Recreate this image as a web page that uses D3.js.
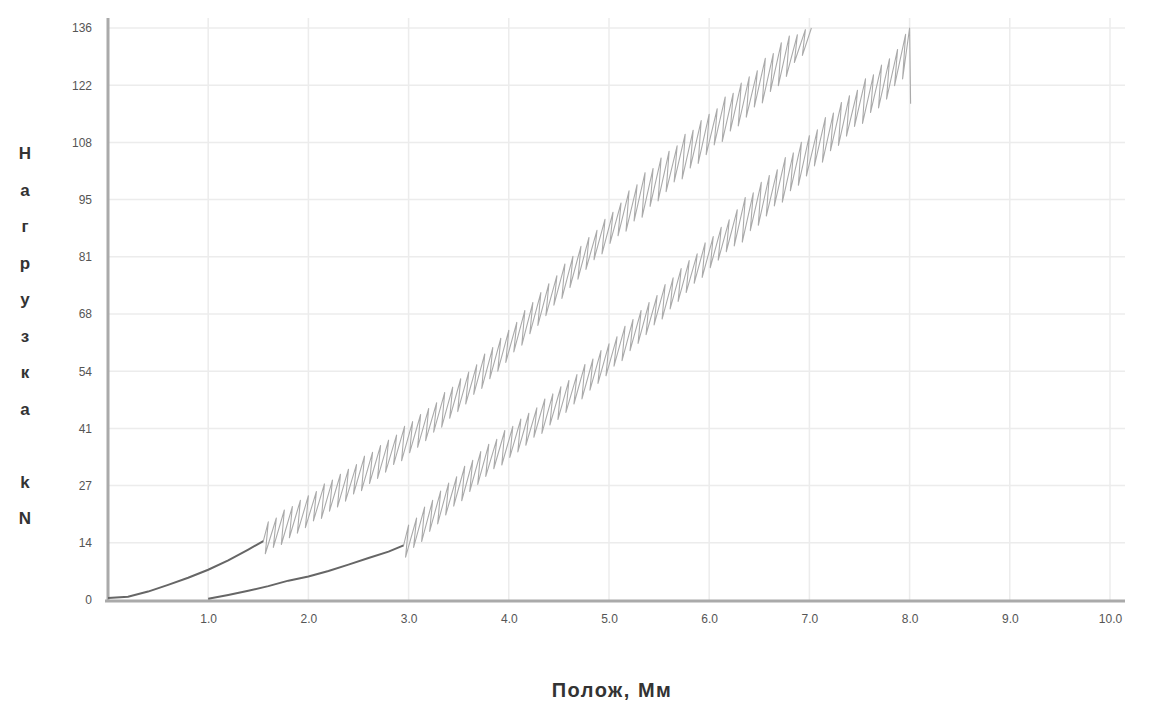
<!DOCTYPE html>
<html>
<head>
<meta charset="utf-8">
<script src="https://cdn.jsdelivr.net/npm/d3@7/dist/d3.min.js"></script>
<style>
  body { margin: 0; background: #fff; }
  svg { display: block; font-family: "Liberation Sans", Arial, sans-serif; }
</style>
</head>
<body>
<svg id="chart"></svg>
<script>
// tick values / labels
const xTicks = [1, 2, 3, 4, 5, 6, 7, 8, 9, 10];
const xTickLabels = ["1.0", "2.0", "3.0", "4.0", "5.0", "6.0", "7.0", "8.0", "9.0", "10.0"];
const yTicks = [0, 13.6, 27.2, 40.8, 54.4, 68, 81.6, 95.2, 108.8, 122.4, 136];
const yTickLabels = ["0", "14", "27", "41", "54", "68", "81", "95", "108", "122", "136"];
const yLabelLetters = ["Н", "а", "г", "р", "у", "з", "к", "а", "", "k", "N"];

// sample 1: lead-in, then load/unload cycles [displacement mm, load kN]
const leadA = [[0, 0.5], [0.2, 0.8], [0.4, 2.0], [0.6, 3.6], [0.8, 5.3], [1.0, 7.2],
  [1.2, 9.4], [1.4, 12.0], [1.55, 14.0]];
const cyclesA = [
  [1.55, 14.0], [1.6, 18.6], [1.57, 11.0], [1.68, 19.5], [1.65, 12.5], [1.76, 21.4], [1.73, 13.2],
  [1.84, 22.2], [1.81, 14.8], [1.92, 23.7], [1.89, 15.9], [2.0, 24.8], [1.97, 17.2],
  [2.08, 25.8], [2.05, 18.8], [2.16, 27.6], [2.13, 19.4], [2.24, 28.5], [2.21, 21.1],
  [2.32, 29.9], [2.29, 22.1], [2.4, 31.1], [2.37, 23.5], [2.48, 32.2], [2.45, 25.2],
  [2.56, 34.2], [2.53, 26.0], [2.64, 35.1], [2.61, 27.7], [2.72, 36.7], [2.69, 28.9],
  [2.8, 38.0], [2.77, 30.4], [2.88, 39.2], [2.85, 32.2], [2.96, 41.3], [2.93, 33.1],
  [3.04, 42.4], [3.01, 35.0], [3.12, 44.1], [3.09, 36.3], [3.2, 45.5], [3.17, 37.9],
  [3.28, 46.9], [3.25, 39.9], [3.36, 49.3], [3.33, 41.1], [3.44, 50.6], [3.41, 43.2],
  [3.52, 52.6], [3.49, 44.8], [3.6, 54.2], [3.57, 46.6], [3.68, 55.9], [3.65, 48.9],
  [3.76, 58.5], [3.73, 50.3], [3.84, 60.0], [3.81, 52.6], [3.92, 62.2], [3.89, 54.4],
  [4.0, 64.1], [3.97, 56.5], [4.08, 66.0], [4.05, 59.0], [4.16, 68.8], [4.13, 60.6],
  [4.24, 70.7], [4.21, 63.3], [4.32, 73.1], [4.29, 65.3], [4.4, 75.2], [4.37, 67.6],
  [4.48, 77.1], [4.45, 70.1], [4.56, 79.9], [4.53, 71.7], [4.64, 81.7], [4.61, 74.3],
  [4.72, 84.1], [4.69, 76.3], [4.8, 86.2], [4.77, 78.6], [4.88, 87.9], [4.85, 80.9],
  [4.96, 90.5], [4.93, 82.3], [5.04, 92.2], [5.01, 84.8], [5.12, 94.4], [5.09, 86.6],
  [5.2, 97.3], [5.17, 87.7], [5.28, 98.7], [5.25, 90.1], [5.36, 101.6], [5.33, 91.0],
  [5.44, 102.6], [5.41, 93.6], [5.52, 105.1], [5.49, 94.9], [5.6, 106.7], [5.57, 97.1],
  [5.68, 108.0], [5.65, 99.4], [5.76, 110.7], [5.73, 100.1], [5.84, 111.7], [5.81, 102.7],
  [5.92, 114.0], [5.89, 103.8], [6.0, 115.5], [5.97, 105.9], [6.08, 116.8], [6.05, 108.2],
  [6.16, 119.6], [6.13, 109.0], [6.24, 120.5], [6.21, 111.5], [6.32, 122.9], [6.29, 112.7],
  [6.4, 124.4], [6.37, 114.8], [6.48, 125.8], [6.45, 117.2], [6.56, 128.8], [6.53, 118.2],
  [6.64, 129.9], [6.61, 120.9], [6.72, 132.5], [6.69, 122.3], [6.8, 134.1], [6.77, 124.5],
  [6.88, 134.4], [6.85, 127.8], [6.96, 135.6], [6.93, 129.5], [7.02, 136.0]
];

// sample 2
const leadB = [[1.0, 0.3], [1.2, 1.2], [1.4, 2.2], [1.6, 3.3], [1.8, 4.6], [2.0, 5.6],
  [2.2, 6.9], [2.4, 8.4], [2.6, 10.0], [2.8, 11.5], [2.95, 13.0]];
const cyclesB = [
  [2.95, 13.0], [3.0, 17.8], [2.97, 10.2], [3.08, 19.5], [3.05, 12.5], [3.16, 22.1], [3.13, 13.9],
  [3.24, 23.7], [3.21, 16.3], [3.32, 25.9], [3.29, 18.1], [3.4, 27.8], [3.37, 20.2],
  [3.48, 29.3], [3.45, 22.3], [3.56, 31.8], [3.53, 23.6], [3.64, 33.2], [3.61, 25.8],
  [3.72, 35.3], [3.69, 27.5], [3.8, 37.0], [3.77, 29.4], [3.88, 38.2], [3.85, 31.2],
  [3.96, 40.3], [3.93, 32.1], [4.04, 41.3], [4.01, 33.9], [4.12, 43.0], [4.09, 35.2],
  [4.2, 44.4], [4.17, 36.8], [4.28, 45.7], [4.25, 38.7], [4.36, 47.8], [4.33, 39.6],
  [4.44, 49.0], [4.41, 41.6], [4.52, 50.7], [4.49, 42.9], [4.6, 52.2], [4.57, 44.6],
  [4.68, 53.6], [4.65, 46.6], [4.76, 56.0], [4.73, 47.8], [4.84, 57.3], [4.81, 49.9],
  [4.92, 59.3], [4.89, 51.5], [5.0, 60.9], [4.97, 53.3], [5.08, 62.6], [5.05, 55.6],
  [5.16, 65.1], [5.13, 56.9], [5.24, 66.7], [5.21, 59.3], [5.32, 68.8], [5.29, 61.0],
  [5.4, 70.7], [5.37, 63.1], [5.48, 72.4], [5.45, 65.4], [5.56, 75.0], [5.53, 66.8],
  [5.64, 76.6], [5.61, 69.2], [5.72, 78.8], [5.69, 71.0], [5.8, 80.7], [5.77, 73.1],
  [5.88, 82.3], [5.85, 75.3], [5.96, 84.9], [5.93, 76.7], [6.04, 86.4], [6.01, 79.0],
  [6.12, 88.6], [6.09, 80.8], [6.2, 90.4], [6.17, 82.8], [6.28, 92.8], [6.25, 84.2],
  [6.36, 95.7], [6.33, 85.1], [6.44, 96.8], [6.41, 87.8], [6.52, 99.3], [6.49, 89.1],
  [6.6, 100.9], [6.57, 91.3], [6.68, 102.3], [6.65, 93.7], [6.76, 105.2], [6.73, 94.6],
  [6.84, 106.3], [6.81, 97.3], [6.92, 108.8], [6.89, 98.6], [7.0, 110.4], [6.97, 100.8],
  [7.08, 111.8], [7.05, 103.2], [7.16, 114.7], [7.13, 104.1], [7.24, 115.8], [7.21, 106.8],
  [7.32, 118.3], [7.29, 108.1], [7.4, 119.9], [7.37, 110.3], [7.48, 121.2], [7.45, 112.6],
  [7.56, 123.9], [7.53, 113.3], [7.64, 124.9], [7.61, 115.9], [7.72, 127.2], [7.69, 117.0],
  [7.8, 128.7], [7.77, 119.1], [7.88, 130.9], [7.85, 122.3], [7.96, 134.5], [7.93, 123.9],
  [8.0, 136.0], [8.01, 118.0]
];

const W = 1158, H = 718;
const margin = { top: 28, right: 33, bottom: 118, left: 108 };
const innerW = W - margin.left - margin.right;
const innerH = H - margin.top - margin.bottom;

const svg = d3.select("#chart").attr("width", W).attr("height", H);
const g = svg.append("g").attr("transform", `translate(${margin.left},${margin.top})`);

const x = d3.scaleLinear().domain([0, 10]).range([0, innerW - 15]);
const y = d3.scaleLinear().domain([0, 136]).range([innerH, 0]);

// grid
g.append("g")
  .selectAll("line")
  .data(xTicks)
  .join("line")
  .attr("x1", (d) => x(d)).attr("x2", (d) => x(d))
  .attr("y1", -10).attr("y2", innerH)
  .attr("stroke", "#ececec").attr("stroke-width", 1.5);

g.append("g")
  .selectAll("line")
  .data(yTicks.slice(1))
  .join("line")
  .attr("x1", 0).attr("x2", innerW)
  .attr("y1", (d) => y(d)).attr("y2", (d) => y(d))
  .attr("stroke", "#ececec").attr("stroke-width", 1.5);

// axes: labels from d3, lines drawn separately
const xAxis = g.append("g")
  .attr("transform", `translate(0,${innerH})`)
  .call(d3.axisBottom(x).tickValues(xTicks).tickSize(0).tickPadding(14)
    .tickFormat((d, i) => xTickLabels[i]));
xAxis.select(".domain").remove();
xAxis.selectAll("text").attr("fill", "#555").attr("font-size", "12px");

const yAxis = g.append("g")
  .call(d3.axisLeft(y).tickValues(yTicks).tickSize(0).tickPadding(16)
    .tickFormat((d, i) => yTickLabels[i]));
yAxis.select(".domain").remove();
yAxis.selectAll("text").attr("fill", "#555").attr("font-size", "12px");

g.append("line")
  .attr("x1", x(0)).attr("x2", x(0))
  .attr("y1", -10).attr("y2", innerH + 2)
  .attr("stroke", "#aaa").attr("stroke-width", 3);
g.append("line")
  .attr("x1", x(0) - 3).attr("x2", innerW)
  .attr("y1", innerH + 1).attr("y2", innerH + 1)
  .attr("stroke", "#aaa").attr("stroke-width", 3);

// curves
const line = d3.line().x((d) => x(d[0])).y((d) => y(d[1]));

[cyclesA, cyclesB].forEach((c) => {
  g.append("path")
    .datum(c)
    .attr("fill", "none")
    .attr("stroke", "#aaa")
    .attr("stroke-width", 1.1)
    .attr("stroke-linejoin", "round")
    .attr("d", line);
});

[leadA, leadB].forEach((c) => {
  g.append("path")
    .datum(c)
    .attr("fill", "none")
    .attr("stroke", "#666")
    .attr("stroke-width", 2)
    .attr("d", line);
});

// axis titles
svg.append("text")
  .attr("x", 612)
  .attr("y", 697)
  .attr("text-anchor", "middle")
  .attr("font-size", "20px")
  .attr("font-weight", "bold")
  .attr("letter-spacing", "1.5px")
  .attr("fill", "#333")
  .text("Полож, Мм");

svg.append("g")
  .selectAll("text")
  .data(yLabelLetters)
  .join("text")
  .attr("x", 25)
  .attr("y", (d, i) => 159 + i * 36.5)
  .attr("text-anchor", "middle")
  .attr("font-size", "17px")
  .attr("font-weight", "bold")
  .attr("fill", "#333")
  .text((d) => d);
</script>
</body>
</html>
